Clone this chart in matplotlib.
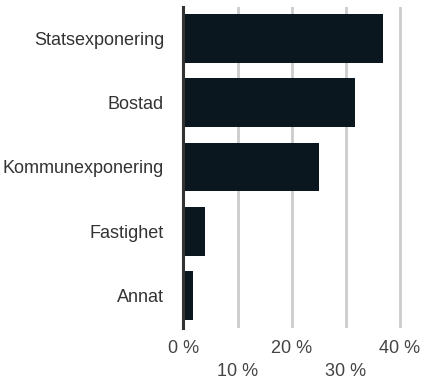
import matplotlib
matplotlib.use("Agg")
import matplotlib.pyplot as plt

plt.rcParams.update({"font.family": ["Liberation Sans", "DejaVu Sans"]})

categories = ["Statsexponering", "Bostad", "Kommunexponering", "Fastighet", "Annat"]
values = [36.9, 31.7, 25.0, 4.0, 1.75]
major_ticks = [0, 20, 40]
minor_ticks = [10, 30]

fig = plt.figure(figsize=(4.29, 3.79), dpi=100)
ax = fig.add_axes([0.4277, 0.1346, 0.5084, 0.8469])

ax.barh(range(len(categories)), values, height=0.76, color="#0a171e", zorder=2)

ax.set_xlim(0, 40.3)
ax.set_ylim(4.506, -0.49)

for x in major_ticks + minor_ticks:
    if x == 0:
        continue
    ax.axvline(x, color="#cccccc", lw=2.0, zorder=1)

for s in ["top", "right", "bottom"]:
    ax.spines[s].set_visible(False)
ax.spines["left"].set_color("#333333")
ax.spines["left"].set_linewidth(2.2)
ax.spines["left"].set_zorder(3)

ax.set_yticks(range(len(categories)))
ax.set_yticklabels(categories)
ax.tick_params(axis="y", length=0, pad=14, labelsize=13, labelcolor="#333333")

ax.set_xticks(major_ticks)
ax.set_xticklabels([f"{t} %" for t in major_ticks])
ax.set_xticks(minor_ticks, minor=True)
ax.set_xticklabels([f"{t} %" for t in minor_ticks], minor=True)
ax.tick_params(axis="x", which="major", length=0, pad=8.5, labelsize=13, labelcolor="#444444")
ax.tick_params(axis="x", which="minor", length=0, pad=25.5, labelsize=13, labelcolor="#444444")

fig.savefig("out.png", dpi=100)
